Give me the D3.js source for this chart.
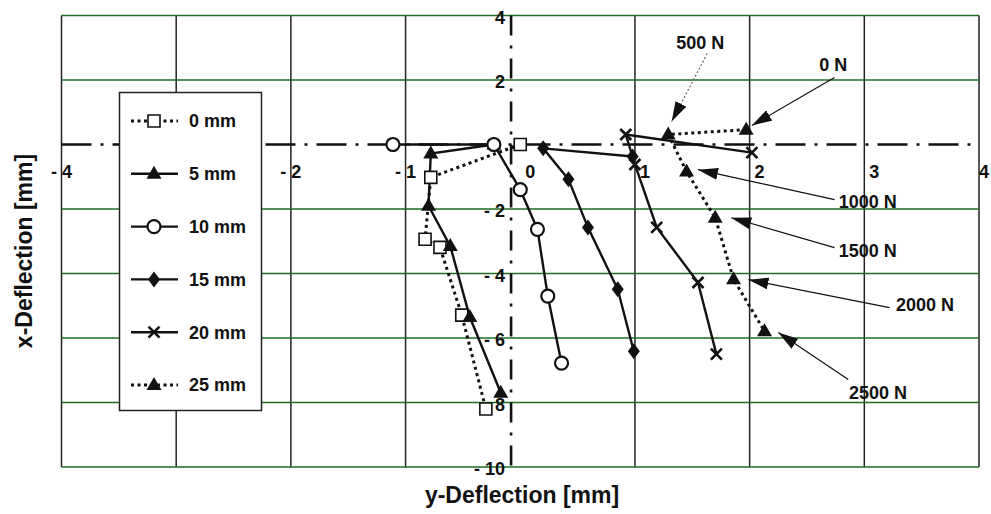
<!DOCTYPE html>
<html>
<head>
<meta charset="utf-8">
<script src="https://cdn.jsdelivr.net/npm/d3@7"></script>
<style>
  body { margin: 0; background: #fff; }
  text { font-family: "Liberation Sans", Arial, sans-serif; font-weight: bold; fill: #111; }
</style>
</head>
<body>
<div id="chart"></div>
<script>
// series names (legend) and load steps
var seriesNames = ["0 mm", "5 mm", "10 mm", "15 mm", "20 mm", "25 mm"];
var loadLabels = ["0 N", "500 N", "1000 N", "1500 N", "2000 N", "2500 N"];

// y-deflection (horizontal) and x-deflection (vertical) per series, in mm
var yDef0 = [0.00, -0.78, -0.83, -0.70, -0.51, -0.30];
var xDef0 = [0.00, -1.02, -2.94, -3.19, -5.29, -8.20];
var yDef5 = [-0.23, -0.78, -0.80, -0.61, -0.44, -0.17];
var xDef5 = [0.00, -0.28, -1.90, -3.15, -5.35, -7.70];
var yDef10 = [-1.11, -0.23, 0.00, 0.15, 0.24, 0.36];
var xDef10 = [0.00, 0.00, -1.40, -2.63, -4.70, -6.78];
var yDef15 = [0.98, 0.20, 0.42, 0.59, 0.85, 0.99];
var xDef15 = [-0.37, -0.12, -1.08, -2.57, -4.49, -6.41];
var yDef20 = [2.02, 0.92, 1.00, 1.19, 1.55, 1.71];
var xDef20 = [-0.25, 0.31, -0.62, -2.57, -4.28, -6.50];
var yDef25 = [1.97, 1.29, 1.45, 1.70, 1.86, 2.13];
var xDef25 = [0.46, 0.31, -0.84, -2.27, -4.18, -5.79];

// tick values and labels
var xTicks = [-4, -3, -2, -1, 0, 1, 2, 3, 4];
var xTickLabels = ["- 4", "- 3", "- 2", "- 1", "0", "1", "2", "3", "4"];
var yTicks = [4, 2, 0, -2, -4, -6, -8, -10];
var yTickLabels = ["4", "2", "", "- 2", "- 4", "- 6", "- 8", "- 10"];

// load annotations: label position, line start, arrow tip (data units)
var annLabelX = [2.73, 1.57, 3.03, 3.03, 3.53, 3.12];
var annLabelY = [2.48, 3.16, -1.77, -3.29, -4.97, -7.69];
var annStartX = [2.74, 1.63, 2.74, 2.74, 3.22, 2.86];
var annStartY = [2.08, 2.82, -1.71, -3.20, -5.06, -7.29];
var annTipX = [2.02, 1.32, 1.55, 1.84, 1.99, 2.25];
var annTipY = [0.59, 0.71, -0.78, -2.27, -4.19, -5.83];

var width = 991, height = 514;

var svg = d3.select("#chart")
  .append("svg")
  .attr("width", width)
  .attr("height", height);

// scales
var x = d3.scaleLinear().domain([-4, 4]).range([61.5, 979]);
var y = d3.scaleLinear().domain([-10, 4]).range([467, 15.5]);

// y axis of the original drawing sits slightly left of zero
var axisCross = -0.08;

// arrow head
svg.append("defs").append("marker")
  .attr("id", "arrow")
  .attr("viewBox", "0 0 20 12")
  .attr("refX", 20)
  .attr("refY", 6)
  .attr("markerWidth", 20)
  .attr("markerHeight", 12)
  .attr("markerUnits", "userSpaceOnUse")
  .attr("orient", "auto")
  .append("path")
  .attr("d", "M0,0L20,6L0,12Z")
  .attr("fill", "#111");

// grid
var grid = svg.append("g");
grid.selectAll("line.v")
  .data(xTicks.filter(d => d !== 0))
  .enter().append("line")
  .attr("x1", d => x(d)).attr("x2", d => x(d))
  .attr("y1", y(4)).attr("y2", y(-10))
  .attr("stroke", "#222")
  .attr("stroke-width", 1.5);

grid.selectAll("line.h")
  .data(yTicks.filter(d => d !== 0))
  .enter().append("line")
  .attr("x1", x(-4)).attr("x2", x(4))
  .attr("y1", d => y(d)).attr("y2", d => y(d))
  .attr("stroke", "#1d6e23")
  .attr("stroke-width", 1.6);

// dash-dot axes
svg.append("line")
  .attr("x1", x(-4)).attr("x2", x(4))
  .attr("y1", y(0)).attr("y2", y(0))
  .attr("stroke", "#111")
  .attr("stroke-width", 2.6)
  .attr("stroke-dasharray", "30,9,3,9");

svg.append("line")
  .attr("x1", x(axisCross)).attr("x2", x(axisCross))
  .attr("y1", y(4)).attr("y2", y(-10))
  .attr("stroke", "#111")
  .attr("stroke-width", 2.6)
  .attr("stroke-dasharray", "20,10,3,10");

// tick labels (positive ones sit a little right of their gridline)
svg.selectAll("text.xtick")
  .data(xTicks)
  .enter().append("text")
  .attr("x", d => x(d) + (d < 0 ? 0 : (d === 4 ? 5 : 10)))
  .attr("y", y(0) + 27)
  .attr("dy", "0.35em")
  .attr("text-anchor", "middle")
  .style("font-size", "18px")
  .text((d, i) => xTickLabels[i]);

svg.selectAll("text.ytick")
  .data(yTicks)
  .enter().append("text")
  .attr("x", x(axisCross) - 6)
  .attr("y", d => y(d) + 2)
  .attr("dy", "0.35em")
  .attr("text-anchor", "end")
  .style("font-size", "18px")
  .text((d, i) => yTickLabels[i]);

// axis titles
svg.append("text")
  .attr("x", 522)
  .attr("y", 503)
  .attr("text-anchor", "middle")
  .style("font-size", "23px")
  .text("y-Deflection [mm]");

svg.append("text")
  .attr("transform", "translate(32, 251) rotate(-90)")
  .attr("text-anchor", "middle")
  .style("font-size", "23px")
  .text("x-Deflection [mm]");

// marker shapes
var circlePath = d3.symbol().type(d3.symbolCircle).size(133)();
var markerStyles = [
  {d: "M-6,-6H6V6H-6Z", fill: "#fff", stroke: 1.6, dotted: true},
  {d: "M0,-8L7.5,5H-7.5Z", fill: "#111", stroke: 0, dotted: false},
  {d: circlePath, fill: "#fff", stroke: 2.2, dotted: false},
  {d: "M0,-8L6,0L0,8L-6,0Z", fill: "#111", stroke: 0, dotted: false},
  {d: "M-5.5,-5.5L5.5,5.5M5.5,-5.5L-5.5,5.5", fill: "none", stroke: 2.6, dotted: false},
  {d: "M0,-8L7.5,5H-7.5Z", fill: "#111", stroke: 0, dotted: true}
];

// legend
var legend = svg.append("g");
legend.append("rect")
  .attr("x", 119.5).attr("y", 92.5)
  .attr("width", 142).attr("height", 318)
  .attr("fill", "#fff")
  .attr("stroke", "#222")
  .attr("stroke-width", 1.5);

var legendRows = legend.selectAll("g.row")
  .data(seriesNames)
  .enter().append("g")
  .attr("transform", (d, i) => `translate(0, ${121 + i * 52.8})`);

legendRows.append("line")
  .attr("x1", 131).attr("x2", 178)
  .attr("y1", 0).attr("y2", 0)
  .attr("stroke", "#111")
  .attr("stroke-width", (d, i) => markerStyles[i].dotted ? 3 : 2.4)
  .attr("stroke-dasharray", (d, i) => markerStyles[i].dotted ? "3,3.5" : null);

legendRows.append("path")
  .attr("transform", "translate(154, 0)")
  .attr("d", (d, i) => markerStyles[i].d)
  .attr("fill", (d, i) => markerStyles[i].fill)
  .attr("stroke", "#111")
  .attr("stroke-width", (d, i) => markerStyles[i].stroke);

legendRows.append("text")
  .attr("x", 189)
  .attr("y", 0)
  .attr("dy", "0.35em")
  .style("font-size", "18px")
  .text(d => d);

// data series
var seriesH = [yDef0, yDef5, yDef10, yDef15, yDef20, yDef25];
var seriesV = [xDef0, xDef5, xDef10, xDef15, xDef20, xDef25];

var line = d3.line()
  .x(d => x(d[0]))
  .y(d => y(d[1]));

var plot = svg.append("g");
seriesNames.forEach(function(name, s) {
  var pts = seriesH[s].map((h, i) => [h, seriesV[s][i]]);
  var st = markerStyles[s];

  plot.append("path")
    .datum(pts)
    .attr("d", line)
    .attr("fill", "none")
    .attr("stroke", "#111")
    .attr("stroke-width", st.dotted ? 3 : 2.4)
    .attr("stroke-dasharray", st.dotted ? "3,3.5" : null);
});

seriesNames.forEach(function(name, s) {
  var pts = seriesH[s].map((h, i) => [h, seriesV[s][i]]);
  var st = markerStyles[s];

  plot.selectAll("path.m" + s)
    .data(pts)
    .enter().append("path")
    .attr("class", "m" + s)
    .attr("transform", d => `translate(${x(d[0])}, ${y(d[1])})`)
    .attr("d", st.d)
    .attr("fill", st.fill)
    .attr("stroke", "#111")
    .attr("stroke-width", st.stroke);
});

// load annotations
var ann = svg.append("g");
ann.selectAll("line")
  .data(loadLabels)
  .enter().append("line")
  .attr("x1", (d, i) => x(annStartX[i]))
  .attr("y1", (d, i) => y(annStartY[i]))
  .attr("x2", (d, i) => x(annTipX[i]))
  .attr("y2", (d, i) => y(annTipY[i]))
  .attr("stroke", (d, i) => i === 1 ? "#666" : "#111")
  .attr("stroke-width", 1.2)
  .attr("stroke-dasharray", (d, i) => i === 1 ? "2,2" : null)
  .attr("marker-end", "url(#arrow)");

ann.selectAll("text")
  .data(loadLabels)
  .enter().append("text")
  .attr("x", (d, i) => x(annLabelX[i]))
  .attr("y", (d, i) => y(annLabelY[i]))
  .attr("dy", "0.35em")
  .attr("text-anchor", "middle")
  .style("font-size", "18px")
  .text(d => d);
</script>
</body>
</html>
